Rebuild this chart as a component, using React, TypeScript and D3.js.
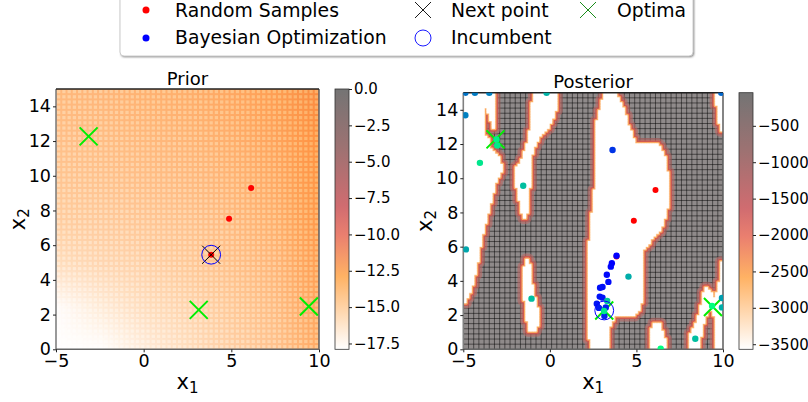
import * as d3 from 'd3';
import { useEffect, useMemo, useRef } from 'react';

type Pt = [number, number];

// prior surface, rows from x2=15 down to x2=0
const priorCols = [-5, -2.5, 0, 2.5, 5, 7.5, 10];
const priorRows = [15, 12.5, 10, 7.5, 5, 2.5, 0];
const priorValues = [
  [-14.9, -14.8, -14.6, -14.4, -14.1, -13.6, -12.6],
  [-15.2, -15.1, -14.9, -14.7, -14.4, -13.9, -12.9],
  [-15.5, -15.4, -15.2, -15.0, -14.7, -14.2, -13.1],
  [-15.9, -15.8, -15.6, -15.4, -15.0, -14.5, -13.3],
  [-16.6, -16.3, -16.1, -15.7, -15.3, -14.8, -13.6],
  [-17.9, -17.2, -16.6, -16.2, -15.7, -15.1, -13.9],
  [-18.0, -18.0, -17.3, -16.6, -16.0, -15.4, -14.2],
];

// outlines of the low (white) areas of the posterior, in x1/x2
const lowRegions: Pt[][] = [
  [[-5, 15], [-3.13, 15], [-3.13, 13.12], [-3.27, 12.82], [-3.46, 13.5], [-3.65, 14.09], [-3.88, 14.09], [-3.8, 13.5], [-3.75, 12.53], [-3.55, 12.24], [-3.5, 11.66], [-3.27, 11.56], [-2.98, 11.27], [-2.85, 11.07], [-2.79, 10.5], [-3.12, 9.7], [-3.46, 8.34], [-3.94, 6.58], [-4.23, 4.83], [-4.52, 3.47], [-5, 2.49]],
  [[-1, 15], [0.48, 15], [0.38, 14.08], [0, 13.11], [-0.77, 12.14], [-1.06, 11.36], [-1.15, 9.8], [-1.25, 8.53], [-1.35, 7.66], [-1.54, 7.56], [-1.73, 8.53], [-1.96, 9.7], [-2.02, 9.8], [-1.96, 10.68], [-1.73, 10.77], [-1.25, 12.14], [-1.06, 13.7]],
  [[-1.44, 5.32], [-1.19, 5.12], [-1.06, 3.86], [-0.71, 2.3], [-0.71, 1.32], [-0.96, 0.94], [-1.21, 1.13], [-1.44, 2.3], [-1.54, 3.86]],
  [[3.13, 15], [3.81, 15], [4.23, 14.08], [4.52, 13.11], [4.96, 11.94], [6.25, 11.94], [6.69, 11.07], [6.83, 9.8], [6.77, 8.05], [6.35, 6.88], [5.96, 6.49], [5.38, 5.81], [5.38, 3.08], [5.1, 2.2], [4.81, 1.91], [3.75, 1.95], [3.46, 1.32], [3.46, 0], [2.31, 0], [2.17, 2.1], [2.21, 5.03], [2.31, 6.88], [2.6, 9.6], [2.65, 13.11]],
  [[5.77, 0], [5.81, 1.13], [6.06, 1.62], [6.35, 1.42], [6.6, 0.74], [6.73, 0]],
  [[7.98, 0], [8.08, 0.74], [8.65, 2.1], [8.85, 3.27], [9.04, 3.57], [9.33, 3.27], [9.52, 2.88], [9.77, 3.86], [9.9, 5.03], [10, 5.51], [10, 0], [9.62, 0], [9.56, 1.52], [9.38, 2.3], [9.13, 2.3], [8.81, 1.32], [8.62, 0]],
  [[9.52, 15], [10, 15], [10, 12.62], [9.81, 13.01], [9.65, 14.08]],
];

const optima: Pt[] = [[-3.14, 12.27], [3.14, 2.27], [9.42, 2.47]];
const randomSamples: Pt[] = [[6.1, 9.31], [4.85, 7.52], [3.85, 5.42]];
const priorSamples: Pt[] = [[6.13, 9.3], [4.87, 7.52], [3.85, 5.45]];
const priorIncumbent: Pt = [3.85, 5.45];
const posteriorIncumbent: Pt = [3.14, 2.27];

// x1, x2, iteration share (0 = first, 1 = last)
const boX = [3.85, 3.58, 3.52, 3.29, 3.38, 3.04, 2.9, 2.88, 3.04, 2.71, 2.83, 3.23, 3.15, 3.62, -4.88, -4.88, -4.33, -3.5, 9.9, -4.85, 9.94, 9.94, 4.54, -0.19, -1.54, -1.06, 8.4, 3.31, -4.04, -3.04, 3.13, -3.08, 6.4, 9.37];
const boY = [5.47, 5.03, 4.83, 4.36, 3.94, 3.64, 3.6, 3.08, 3.02, 2.67, 2.42, 2.45, 1.95, 11.65, 13.68, 15, 15, 15, 15, 5.84, 3, 2.45, 4.25, 15, 9.56, 2.96, 0.62, 2.82, 10.9, 11.92, 2.24, 12.27, 0.04, 2.53];
const boT = [0, 0, 0.02, 0.03, 0.04, 0.05, 0.06, 0.07, 0.08, 0.08, 0.1, 0.12, 0.14, 0.2, 0.5, 0.45, 0.48, 0.5, 0.4, 0.65, 0.62, 0.68, 0.68, 0.7, 0.75, 0.75, 0.75, 0.78, 0.9, 0.92, 0.92, 0.95, 1, 1];

const priorTicks = [0, -2.5, -5, -7.5, -10, -12.5, -15, -17.5];
const posteriorTicks = [-500, -1000, -1500, -2000, -2500, -3000, -3500];
const axisX = [-5, 0, 5, 10];
const axisY = [0, 2, 4, 6, 8, 10, 12, 14];

const heatStops = [0, 0.28, 0.44, 0.55, 0.78, 1];
const heatColors = ['#ffffff', '#ffb264', '#ea7f6f', '#d06c70', '#9c7272', '#747474'];
const heatT = d3.scaleLinear<string>().domain(heatStops).range(heatColors);
const priorColor = (v: number) => heatT((v + 18) / 18);
const winter = d3.interpolateRgb('#0000ff', '#00ff80');

const plotL = { left: 56, right: 319, top: 89, bottom: 349.3 };
const plotR = { left: 463.3, right: 723, top: 92.7, bottom: 349.3 };
const font = '"DejaVu Sans", sans-serif';
const cellStep = 0.3;
const rasterStep = 0.15;

function surfaceUrl(values: number[][]) {
  const canvas = document.createElement('canvas');
  canvas.width = values[0].length;
  canvas.height = values.length;
  const ctx = canvas.getContext('2d')!;
  values.forEach((row, j) => row.forEach((v, i) => {
    ctx.fillStyle = priorColor(v);
    ctx.fillRect(i, j, 1, 1);
  }));
  return canvas.toDataURL();
}

function Cross({ x, y, r, color, width }: { x: number; y: number; r: number; color: string; width: number }) {
  return <path d={`M${x - r},${y - r}L${x + r},${y + r}M${x - r},${y + r}L${x + r},${y - r}`} stroke={color} strokeWidth={width} fill="none" />;
}

function AxisG({ axis, transform, size }: { axis: d3.Axis<any>; transform: string; size: number }) {
  const ref = useRef<SVGGElement>(null);
  useEffect(() => {
    const g = d3.select(ref.current!);
    g.call(axis);
    g.select('.domain').remove();
    g.selectAll('.tick line').attr('stroke', '#222').attr('stroke-width', 1);
    g.selectAll('.tick text').attr('fill', '#000').attr('font-size', size).attr('font-family', font);
  }, [axis, size]);
  return <g ref={ref} transform={transform} />;
}

function Frame({ box }: { box: typeof plotL }) {
  return (
    <g fill="none">
      <line x1={box.left} x2={box.left} y1={box.top} y2={box.bottom} stroke="#808080" strokeWidth={1.6} />
      <line x1={box.right} x2={box.right} y1={box.top} y2={box.bottom} stroke="#666" strokeWidth={1.6} />
      <line x1={box.left} x2={box.right} y1={box.bottom} y2={box.bottom} stroke="#666" strokeWidth={1.4} />
      <line x1={box.left} x2={box.right} y1={box.top} y2={box.top} stroke="#222" strokeWidth={1.4} />
    </g>
  );
}

function AxisLabels({ box, title, titleY, labelX }: { box: typeof plotL; title: string; titleY: number; labelX: number }) {
  const cx = (box.left + box.right) / 2;
  const cy = (box.top + box.bottom) / 2;
  return (
    <g fontFamily={font} fill="#000">
      <text x={cx} y={titleY} textAnchor="middle" fontSize={18}>{title}</text>
      <text x={cx} y={389} textAnchor="middle" fontSize={21}>x<tspan fontSize={15} dy={4}>1</tspan></text>
      <text transform={`translate(${labelX},${cy}) rotate(-90)`} textAnchor="middle" fontSize={21}>x<tspan fontSize={15} dy={4}>2</tspan></text>
    </g>
  );
}

export default function App() {
  const priorUrl = useMemo(() => surfaceUrl(priorValues), []);

  const xL = d3.scaleLinear().domain([-5, 10]).range([plotL.left, plotL.right]);
  const yL = d3.scaleLinear().domain([0, 15]).range([plotL.bottom, plotL.top]);
  const xR = d3.scaleLinear().domain([-5, 10]).range([plotR.left, plotR.right]);
  const yR = d3.scaleLinear().domain([0, 15]).range([plotR.bottom, plotR.top]);

  const barL = d3.scaleLinear().domain([-17.9, 0]).range([plotL.bottom, plotL.top]);
  const barR = d3.scaleLinear().domain([-3570, -45]).range([plotR.bottom, plotR.top]);

  const cellX = d3.range(-5, 10.01, cellStep);
  const cellY = d3.range(0, 15.01, cellStep);

  // raster of the low areas, so the edges step like the image does
  const lowPath = useMemo(() => {
    const w = xR(rasterStep) - xR(0) + 0.4;
    const h = yR(0) - yR(rasterStep) + 0.4;
    const parts: string[] = [];
    d3.range(-5, 9.99, rasterStep).forEach((cx) => d3.range(0, 14.99, rasterStep).forEach((cy) => {
      const c: Pt = [cx + rasterStep / 2, cy + rasterStep / 2];
      if (lowRegions.some((r) => d3.polygonContains(r, c))) {
        parts.push(`M${xR(cx).toFixed(1)},${(yR(cy) - h).toFixed(1)}h${w.toFixed(2)}v${h.toFixed(2)}h${(-w).toFixed(2)}Z`);
      }
    }));
    return parts.join('');
  }, []);

  const halfW = (priorCols[1] - priorCols[0]) / 2;
  const halfH = (priorRows[0] - priorRows[1]) / 2;
  const imgX = xL(priorCols[0] - halfW);
  const imgW = xL(priorCols[priorCols.length - 1] + halfW) - imgX;
  const imgY = yL(priorRows[0] + halfH);
  const imgH = yL(priorRows[priorRows.length - 1] - halfH) - imgY;

  const axes = useMemo(() => ({
    xl: d3.axisBottom(xL).tickValues(axisX).tickSize(3).tickPadding(2),
    yl: d3.axisLeft(yL).tickValues(axisY).tickSize(3).tickPadding(2),
    xr: d3.axisBottom(xR).tickValues(axisX).tickSize(3).tickPadding(2),
    yr: d3.axisLeft(yR).tickValues(axisY).tickSize(3).tickPadding(2),
    bl: d3.axisRight(barL).tickValues(priorTicks).tickFormat(d3.format('.1f') as any).tickSize(3).tickPadding(2),
    br: d3.axisRight(barR).tickValues(posteriorTicks).tickFormat(d3.format('d') as any).tickSize(3).tickPadding(2),
  }), []);

  return (
    <svg width={808} height={402} style={{ position: 'absolute', left: 0, top: 0, background: '#fff' }}>
      <defs>
        <clipPath id="clipL"><rect x={plotL.left} y={plotL.top} width={plotL.right - plotL.left} height={plotL.bottom - plotL.top} /></clipPath>
        <clipPath id="clipR"><rect x={plotR.left} y={plotR.top} width={plotR.right - plotR.left} height={plotR.bottom - plotR.top} /></clipPath>
        <clipPath id="cellLines">
          {cellX.map((c) => <rect key={`v${c}`} x={xL(c) - 1} y={plotL.top} width={2} height={plotL.bottom - plotL.top} />)}
          {cellY.map((c) => <rect key={`h${c}`} x={plotL.left} y={yL(c) - 1} width={plotL.right - plotL.left} height={2} />)}
        </clipPath>
        <linearGradient id="barGrad" x1="0" x2="0" y1="1" y2="0">
          {heatStops.map((s, i) => <stop key={s} offset={s} stopColor={heatColors[i]} />)}
        </linearGradient>
        <filter id="soft" x="-5%" y="-5%" width="110%" height="110%"><feGaussianBlur stdDeviation="0.6" /></filter>
        <filter id="shadow" x="-2%" y="-10%" width="104%" height="130%"><feGaussianBlur stdDeviation="1" /></filter>
      </defs>

      {/* Prior */}
      <g clipPath="url(#clipL)">
        <image href={priorUrl} x={imgX} y={imgY} width={imgW} height={imgH} preserveAspectRatio="none" />
        <g clipPath="url(#cellLines)" style={{ mixBlendMode: 'multiply' }} opacity={0.6}>
          <image href={priorUrl} x={imgX} y={imgY} width={imgW} height={imgH} preserveAspectRatio="none" />
        </g>
      </g>
      <Frame box={plotL} />
      <g clipPath="url(#clipL)">
        {optima.map((d, i) => <Cross key={i} x={xL(d[0])} y={yL(d[1])} r={9} color="#00ee00" width={2} />)}
        {priorSamples.map((d, i) => <circle key={i} cx={xL(d[0])} cy={yL(d[1])} r={3} fill="#ff0000" />)}
        <Cross x={xL(priorIncumbent[0])} y={yL(priorIncumbent[1])} r={9} color="#000" width={1} />
        <circle cx={xL(priorIncumbent[0])} cy={yL(priorIncumbent[1])} r={9.4} fill="none" stroke="#0000ff" strokeWidth={1} />
      </g>
      <AxisG axis={axes.xl} transform={`translate(0,${plotL.bottom})`} size={17.5} />
      <AxisG axis={axes.yl} transform={`translate(${plotL.left},0)`} size={17.5} />
      <AxisLabels box={plotL} title="Prior" titleY={85} labelX={25} />

      <rect x={335} y={plotL.top} width={14} height={plotL.bottom - plotL.top} fill="url(#barGrad)" stroke="#333" strokeWidth={0.8} />
      <AxisG axis={axes.bl} transform="translate(349,0)" size={15} />

      {/* Posterior */}
      <g clipPath="url(#clipR)">
        <rect x={plotR.left} y={plotR.top} width={plotR.right - plotR.left} height={plotR.bottom - plotR.top} fill="#8f8a8a" />
        {cellX.map((c) => <line key={`v${c}`} x1={xR(c)} x2={xR(c)} y1={plotR.top} y2={plotR.bottom} stroke="#000" strokeOpacity={0.55} strokeWidth={0.9} />)}
        {cellY.map((c) => <line key={`h${c}`} x1={plotR.left} x2={plotR.right} y1={yR(c)} y2={yR(c)} stroke="#000" strokeOpacity={0.55} strokeWidth={0.9} />)}
        <g filter="url(#soft)" fill="none" strokeLinejoin="round">
          <path d={lowPath} stroke="#bb6a68" strokeOpacity={0.6} strokeWidth={11} />
          <path d={lowPath} stroke="#d4574e" strokeOpacity={0.9} strokeWidth={6} />
          <path d={lowPath} stroke="#fba860" strokeWidth={3.2} />
          <path d={lowPath} stroke="#ffe4c8" strokeWidth={0.8} />
          <path d={lowPath} fill="#fff" />
        </g>
      </g>
      <Frame box={plotR} />
      <g clipPath="url(#clipR)">
        {optima.map((d, i) => <Cross key={i} x={xR(d[0])} y={yR(d[1])} r={9} color="#00ee00" width={2} />)}
        {randomSamples.map((d, i) => <circle key={i} cx={xR(d[0])} cy={yR(d[1])} r={3} fill="#ff0000" />)}
        {boX.map((x, i) => <circle key={i} cx={xR(x)} cy={yR(boY[i])} r={3.2} fill={winter(boT[i])} />)}
        <circle cx={xR(posteriorIncumbent[0])} cy={yR(posteriorIncumbent[1])} r={9.4} fill="none" stroke="#0000ff" strokeWidth={1} />
      </g>
      <AxisG axis={axes.xr} transform={`translate(0,${plotR.bottom})`} size={17.5} />
      <AxisG axis={axes.yr} transform={`translate(${plotR.left},0)`} size={17.5} />
      <AxisLabels box={plotR} title="Posterior" titleY={88} labelX={432} />

      <rect x={739} y={plotR.top} width={14} height={plotR.bottom - plotR.top} fill="url(#barGrad)" stroke="#333" strokeWidth={0.8} />
      <AxisG axis={axes.br} transform="translate(753,0)" size={15} />

      {/* Legend */}
      <rect x={121} y={-6} width={573} height={63} rx={4} fill="#777" filter="url(#shadow)" />
      <rect x={120} y={-7} width={573} height={63} rx={4} fill="#fff" stroke="#ccc" strokeWidth={1} />
      <circle cx={146} cy={10} r={3.5} fill="#ff0000" />
      <circle cx={146} cy={38} r={3.5} fill="#0000ff" />
      <Cross x={423} y={10} r={8} color="#000" width={0.9} />
      <circle cx={423} cy={38} r={8} fill="none" stroke="#0000ff" strokeWidth={0.9} />
      <Cross x={588} y={10} r={8} color="#008000" width={0.9} />
      <g fontFamily={font} fontSize={18.8} fill="#000">
        <text x={175} y={17}>Random Samples</text>
        <text x={175} y={44}>Bayesian Optimization</text>
        <text x={451} y={17}>Next point</text>
        <text x={451} y={44}>Incumbent</text>
        <text x={617} y={17}>Optima</text>
      </g>
    </svg>
  );
}
